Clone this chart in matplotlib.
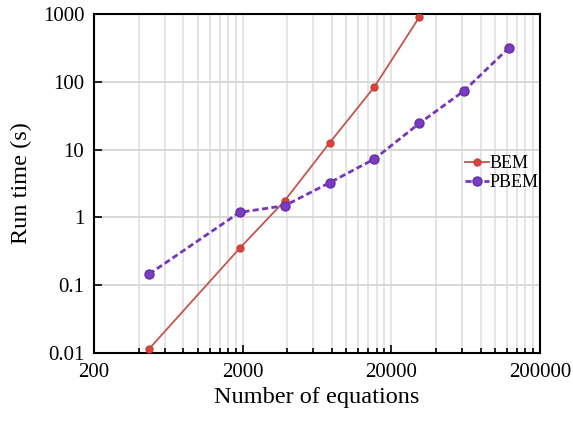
import matplotlib
matplotlib.use("Agg")
import matplotlib.pyplot as plt
from matplotlib.ticker import FixedLocator, FixedFormatter, NullFormatter

plt.rcParams['font.family'] = ['Liberation Serif', 'DejaVu Serif']

# run times (s) against problem size
bem_n = [470, 1910, 3840, 7700, 15400, 30900]
bem_t = [0.0115, 0.35, 1.76, 12.6, 84.0, 900.0]
pbem_n = [470, 1910, 3840, 7700, 15400, 30900, 62000, 124000]
pbem_t = [0.146, 1.19, 1.49, 3.25, 7.27, 24.4, 74.0, 318.0]

x_major = [200, 2000, 20000, 200000]
x_labels = ['200', '2000', '20000', '200000']
y_major = [0.01, 0.1, 1, 10, 100, 1000]
y_labels = ['0.01', '0.1', '1', '10', '100', '1000']

fig = plt.figure(figsize=(5.73, 4.21), dpi=100)
ax = fig.add_axes([0.164, 0.1615, 0.778, 0.805])

ax.set_xscale('log')
ax.set_yscale('log')
ax.set_xlim(200, 200000)
ax.set_ylim(0.01, 1000)

# minor ticks at 2..9 times each decade start
x_minor = [d * k for d in x_major[:-1] for k in range(2, 10)]
ax.xaxis.set_major_locator(FixedLocator(x_major))
ax.xaxis.set_major_formatter(FixedFormatter(x_labels))
ax.xaxis.set_minor_locator(FixedLocator(x_minor))
ax.xaxis.set_minor_formatter(NullFormatter())
ax.yaxis.set_major_locator(FixedLocator(y_major))
ax.yaxis.set_major_formatter(FixedFormatter(y_labels))
ax.yaxis.set_minor_locator(FixedLocator([]))

ax.grid(True, which='both', axis='x', color='#dedede', linewidth=1.1)
ax.grid(True, which='major', axis='y', color='#d6d6d6', linewidth=1.3)
ax.set_axisbelow(True)

ax.plot(bem_n, bem_t, '-o', color='#c4554f', linewidth=1.3,
        markersize=5, markerfacecolor='#d9433b', markeredgecolor='#c9403a',
        label='BEM', zorder=3)
ax.plot(pbem_n, pbem_t, '--o', color='#7537b8', linewidth=2.0,
        dashes=(2.2, 1.2), markersize=6.5, markerfacecolor='#7a3cc0',
        markeredgecolor='#6a2ea8', label='PBEM', zorder=3)

for s in ax.spines.values():
    s.set_linewidth(1.5)
ax.tick_params(which='both', direction='in', top=False, right=False,
               labelsize=15, width=1.2)
ax.tick_params(which='major', length=6, pad=7)
ax.tick_params(which='minor', length=3.5)

ax.set_xlabel('Number of equations', fontsize=17.5, labelpad=4)
ax.set_ylabel('Run time (s)', fontsize=17.5, labelpad=8)

ax.legend(loc='center right', bbox_to_anchor=(1.0, 0.53), frameon=False,
          fontsize=13, handlelength=1.3, handletextpad=0.05,
          labelspacing=0.1, borderpad=0, borderaxespad=0.05)

fig.savefig('out.png', dpi=100)
